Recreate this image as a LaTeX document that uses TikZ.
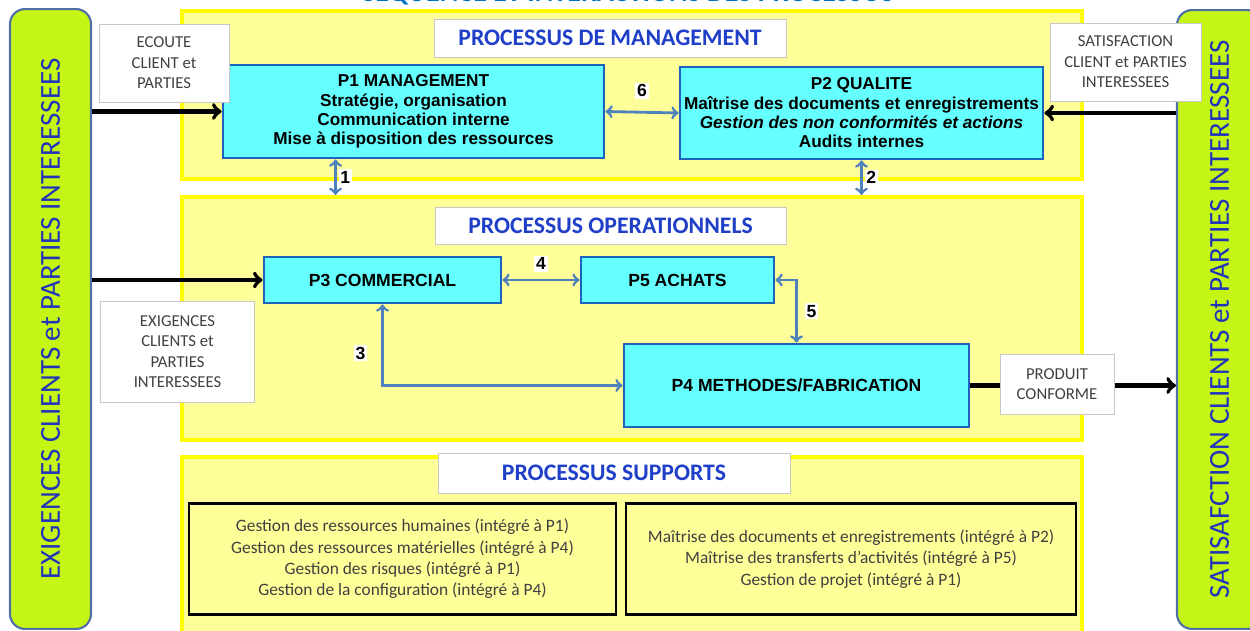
\documentclass[tikz,border=0pt]{standalone}
\usepackage{fontspec}
\setmainfont{Carlito}
\newfontfamily\arialfont{Liberation Sans}
\definecolor{bandfill}{HTML}{FFFF99}
\definecolor{bandline}{HTML}{FFFF00}
\definecolor{procfill}{HTML}{66FFFF}
\definecolor{procline}{HTML}{1E64BE}
\definecolor{sidegreen}{HTML}{C5F514}
\definecolor{sideline}{HTML}{4F6FA8}
\definecolor{sideblue}{HTML}{2233BB}
\definecolor{headblue}{HTML}{1F3FC8}
\definecolor{topblue}{HTML}{0070C0}
\definecolor{flowblue}{HTML}{4F81BD}
\definecolor{boxline}{HTML}{C8C8C8}
\definecolor{notegray}{HTML}{404040}
\tikzstyle{band}=[
        draw = bandline,
        line width = 2.3pt,
        fill = bandfill,
        minimum width = 180mm,
        inner sep = 0pt
    ]
\tikzstyle{sidebar}=[
        draw = sideline,
        line width = 1.2pt,
        fill = sidegreen,
        rounded corners = 3mm,
        text = sideblue,
        inner sep = 0pt,
        font = \fontsize{16.5}{18}\selectfont
    ]
\tikzstyle{headbox}=[
        draw = boxline,
        fill = white,
        text = headblue,
        inner sep = 0pt,
        font = \bfseries\fontsize{13.5}{16}\selectfont
    ]
\tikzstyle{proc}=[
        draw = procline,
        line width = 1.6pt,
        fill = procfill,
        align = center,
        inner sep = 0pt,
        font = \arialfont\bfseries\fontsize{9.8}{11}\selectfont
    ]
\tikzstyle{note}=[
        draw = boxline,
        fill = white,
        align = center,
        text = notegray,
        inner sep = 0pt,
        font = \fontsize{9.5}{11.7}\selectfont
    ]
\tikzstyle{support}=[
        draw = black,
        line width = 1.6pt,
        align = center,
        text = notegray,
        inner sep = 0pt,
        minimum height = 22.2mm,
        font = \fontsize{9.9}{12.1}\selectfont
    ]

\begin{document}
\begin{tikzpicture}[x=0.02cm, y=-0.02cm,
        flow/.style = {<->, draw=flowblue, line width=1.6pt},
        feed/.style = {->, line width=2.3pt},
        num/.style = {fill=white, inner sep=1pt, font=\arialfont\bfseries\fontsize{10}{12}\selectfont}]
        \useasboundingbox (0,0) rectangle (1250,631);

        \node[anchor=base, text=topblue, font=\bfseries\fontsize{16}{18}\selectfont] (T) at (628,2) {SEQUENCE ET INTERACTIONS DES PROCESSUS};

        \node[band, minimum height=33.6mm] (MG) at (632,95) {};
        \node[band, minimum height=48.6mm] (OP) at (632,318.5) {};
        \node[band, minimum height=37.6mm] (SU) at (632,551) {};

        \node[sidebar, minimum width=16.2mm, minimum height=124mm] (EX) at (50.5,319) {\rotatebox{90}{EXIGENCES CLIENTS et PARTIES INTERESSEES}};
        \node[sidebar, minimum width=17mm, minimum height=123.8mm] (SA) at (1219.5,319.5) {\rotatebox{90}{SATISAFCTION CLIENTS et PARTIES INTERESSEES}};

        \node[headbox, minimum width=70.4mm, minimum height=7.6mm] (H1) at (610,38) {PROCESSUS DE MANAGEMENT};
        \node[headbox, minimum width=70.2mm, minimum height=7.4mm] (H2) at (610.5,225.5) {PROCESSUS OPERATIONNELS};
        \node[headbox, minimum width=70.4mm, minimum height=8mm] (H3) at (614,473) {PROCESSUS SUPPORTS};

        \node[proc, minimum width=76.2mm, minimum height=18.6mm] (P1) at (413.5,111.5) {P1 MANAGEMENT\\Stratégie, organisation\\Communication interne\\Mise à disposition des ressources};
        \node[proc, minimum width=72.6mm, minimum height=18.4mm] (P2) at (861.5,113) {P2 QUALITE\\Maîtrise des documents et enregistrements\\{\itshape Gestion des non conformités et actions}\\Audits internes};
        \node[proc, minimum width=47.4mm, minimum height=9.2mm, font=\arialfont\bfseries\fontsize{10}{11}\selectfont] (P3) at (382.5,280) {P3 COMMERCIAL};
        \node[proc, minimum width=38.6mm, minimum height=9.2mm, font=\arialfont\bfseries\fontsize{10}{11}\selectfont] (P5) at (677.5,280) {P5 ACHATS};
        \node[proc, minimum width=69mm, minimum height=16.6mm, font=\arialfont\bfseries\fontsize{10}{11}\selectfont] (P4) at (796.5,385.5) {P4 METHODES/FABRICATION};

        \node[support, minimum width=85.4mm] (S1) at (402.5,559) {Gestion des ressources humaines (intégré à P1)\\Gestion des ressources matérielles (intégré à P4)\\Gestion des risques (intégré à P1)\\Gestion de la configuration (intégré à P4)};
        \node[support, minimum width=90mm] (S2) at (851,559) {Maîtrise des documents et enregistrements (intégré à P2)\\Maîtrise des transferts d'activités (intégré à P5)\\Gestion de projet (intégré à P1)};

        \draw[feed] (EX.east |- P1.west) -- (P1.west);
        \draw[feed] (SA.west |- P2.east) -- (P2.east);
        \draw[feed] (EX.east |- P3.west) -- (P3.west);
        \draw[feed] (P4.east) -- (SA.west |- P4.east);

        \draw[flow] (P1.east) -- (P2.west) node [midway,above=7pt,num] {6};
        \draw[flow] ([xshift=-15.6mm]P1.south) -- ([xshift=-15.6mm]P1.south |- OP.north) node [midway,right=1pt,num] {1};
        \draw[flow] (P2.south) -- (P2.south |- OP.north) node [midway,right=1pt,num] {2};
        \draw[flow] (P3.east) -- (P5.west) node [midway,above=4pt,num] {4};
        \draw[flow] (P5.east) -| (P4.north) node [pos=0.75,right=4pt,num] {5};
        \draw[flow] (P3.south) |- (P4.west) node [pos=0.3,left=8pt,num] {3};

        \node[note, minimum width=26mm, minimum height=15.6mm] (EC) at (164,63) {ECOUTE\\CLIENT et\\PARTIES};
        \node[note, minimum width=30.2mm, minimum height=15.6mm] (SC) at (1125.5,62) {SATISFACTION\\CLIENT et PARTIES\\INTERESSEES};
        \node[note, minimum width=30.8mm, minimum height=20.2mm] (EG) at (177.5,351.5) {EXIGENCES\\CLIENTS et\\PARTIES\\INTERESSEES};
        \node[note, minimum width=22.8mm, minimum height=12mm] (PC) at (1057,384) {PRODUIT\\CONFORME};
\end{tikzpicture}
\end{document}
